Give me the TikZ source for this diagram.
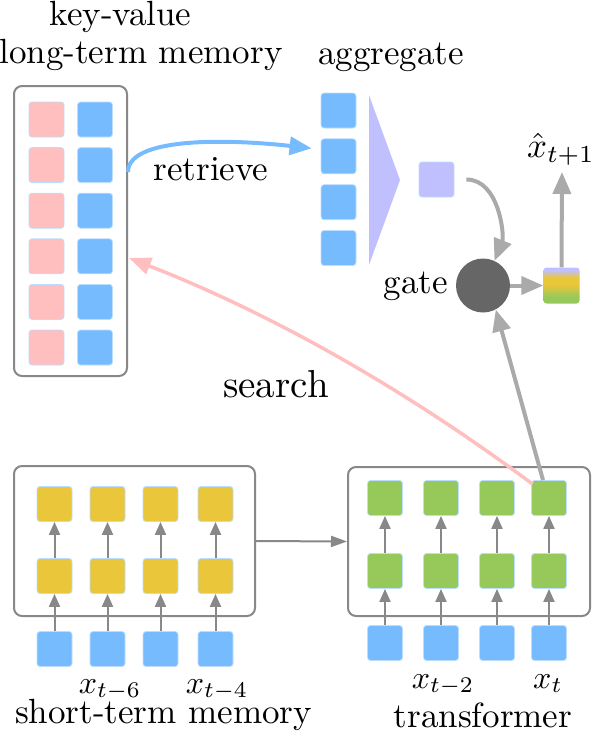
\documentclass[tikz,border=0pt]{standalone}
\usetikzlibrary{arrows.meta,calc}
\definecolor{cpink}{HTML}{FFBFBF}
\definecolor{cblue}{HTML}{77BBFF}
\definecolor{cyel}{HTML}{EAC63A}
\definecolor{cgreen}{HTML}{97C85A}
\definecolor{clav}{HTML}{C0C0FF}
\definecolor{cedge}{HTML}{BBDDFF}
\definecolor{cbox}{HTML}{888888}
\definecolor{carr}{HTML}{AAAAAA}
\definecolor{cgate}{HTML}{666666}
\pgfdeclareverticalshading{outsh}{100bp}{color(0bp)=(cgreen); color(34bp)=(cgreen); color(51bp)=(cyel); color(61bp)=(cyel); color(71bp)=(clav); color(100bp)=(clav)}
\tikzset{
  cell/.style={minimum size=35pt, inner sep=0pt, rounded corners=3pt, draw=cedge, line width=0.8pt},
  pinkc/.style={cell, fill=cpink},
  bluec/.style={cell, fill=cblue},
  yelc/.style={cell, fill=cyel},
  greenc/.style={cell, fill=cgreen},
  lavc/.style={cell, fill=clav},
  frame/.style={draw=cbox, line width=2pt, rounded corners=8pt, inner sep=0pt},
  bigarr/.style={draw=carr, line width=4pt, -{Triangle[length=22pt,width=18pt]}},
  retarr/.style={draw=cblue, line width=4pt, -{Triangle[length=22pt,width=18pt]}},
  srcharr/.style={draw=cpink, line width=3.5pt, -{Triangle[length=22pt,width=17pt]}},
  smallarr/.style={draw=cbox, line width=2pt, -{Triangle[length=13pt,width=11pt]}},
  linkarr/.style={draw=cbox, line width=2pt, -{Triangle[length=16pt,width=11pt]}},
  lbl/.style={font=\fontsize{10}{12}\selectfont, scale=3.5, inner sep=0pt, anchor=base},
  mlbl/.style={font=\fontsize{10}{12}\selectfont, scale=3.2, inner sep=0pt, anchor=base},
  biglbl/.style={font=\fontsize{10}{12}\selectfont, scale=3.9, inner sep=0pt, anchor=base},
}
\begin{document}
\begin{tikzpicture}[x=1pt,y=-1pt]
\useasboundingbox (0,0) rectangle (594,742);

% ---------- long-term memory ----------
\node[frame, minimum width=113pt, minimum height=290pt] (ltm) at (70.5,231) {};
\foreach \i/\y in {1/119.5,2/165.1,3/210.7,4/256.3,5/301.9,6/347.5}{
  \node[pinkc] (k\i) at (46.5,\y) {};
  \node[bluec] (v\i) at (95,\y) {};
}
\node[lbl] (kvt) at (120.5,25) {key-value};
\node[lbl] (ltmt) at (141,63) {long-term memory};

% ---------- aggregate ----------
\node[lbl] (aggt) at (391,64) {aggregate};
\foreach \i/\y in {1/110.5,2/156.3,3/202.2,4/248}{
  \node[bluec] (a\i) at (338.5,\y) {};
}
\fill[clav] (369,95) -- (369,265) -- (400,180) -- cycle;
\node[lavc] (lav) at (436.5,179.5) {};

% ---------- gate / output ----------
\node[circle, fill=cgate, minimum size=54pt, inner sep=0pt] (gate) at (483,285.5) {};
\node[lbl] (gt) at (416,293) {gate};
\node[minimum size=36pt, inner sep=0pt, rounded corners=3pt, shading=outsh] (out) at (561.5,285.5) {};
\node[lbl] (xh) at (561,157) {$\hat{x}_{t+1}$};
\coordinate (xtip) at (562,172);

% ---------- short-term memory ----------
\node[frame, minimum width=241pt, minimum height=150pt] (stm) at (134.5,541) {};
\foreach \i/\x in {1/54.5,2/107.5,3/160.5,4/215.5}{
  \node[yelc] (su\i) at (\x,504) {};
  \node[yelc] (sl\i) at (\x,576) {};
  \node[bluec] (sb\i) at (\x,649) {};
  \draw[smallarr] (sb\i.north) -- (sl\i.south);
  \draw[smallarr] (sl\i.north) -- (su\i.south);
}
\node[mlbl] (xs6) at (110,693) {$x_{t-6}$};
\node[mlbl] (xs4) at (217,693) {$x_{t-4}$};
\node[lbl] (stmt) at (163.5,723) {short-term memory};

% ---------- transformer ----------
\node[frame, minimum width=242pt, minimum height=149pt] (tr) at (469,541.5) {};
\foreach \i/\x in {1/385,2/441,3/497,4/549}{
  \node[greenc] (tu\i) at (\x,498) {};
  \node[greenc] (tl\i) at (\x,571) {};
  \node[bluec] (tb\i) at (\x,643) {};
  \draw[smallarr] (tb\i.north) -- (tl\i.south);
  \draw[smallarr] (tl\i.north) -- (tu\i.south);
}
\node[mlbl] (xs2) at (443,688) {$x_{t-2}$};
\node[mlbl] (xs0) at (548,688) {$x_{t}$};
\node[lbl] (trt) at (483,727) {transformer};

\draw[linkarr] (stm.east) -- (tr.west);

% ---------- big connectors ----------
\draw[retarr] ($(ltm.east)+(0,-59)$) .. controls +(0,-34) and +(-90,-10) .. ($(a2.west)+(-9,-8)$);
\node[lbl] (ret) at (211,180) {retrieve};

\draw[srcharr] ($(tu4.north west)+(1.5,4)$) .. controls (409,392) and (275,315) .. ($(ltm.east)+(1,27)$);
\node[biglbl] (srch) at (276,397) {search};

\draw[bigarr, shorten <=12pt] (lav.east) .. controls +(45,0) and +(10,-25) .. (gate.65);
\draw[bigarr] ($(tu4.north)+(-6,0)$) -- (gate.-62);
\draw[bigarr] (gate.east) -- (out.west);
\draw[bigarr] (out.north) -- (xtip);
\end{tikzpicture}
\end{document}
